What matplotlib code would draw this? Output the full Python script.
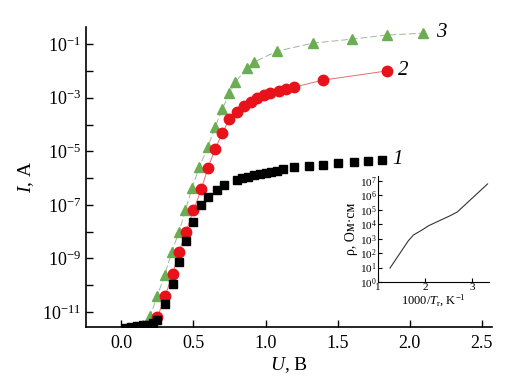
import numpy as np
import matplotlib
matplotlib.use("Agg")
import matplotlib.pyplot as plt
from matplotlib.ticker import NullFormatter, LogFormatterSciNotation

plt.rcParams['font.family'] = ['Liberation Serif', 'DejaVu Serif']
plt.rcParams['mathtext.fontset'] = 'custom'
plt.rcParams['mathtext.rm'] = 'Liberation Serif'
plt.rcParams['mathtext.it'] = 'Liberation Serif:italic'

# curve 1 (black squares)
u1 = [0.03, 0.07, 0.11, 0.15, 0.19, 0.22, 0.25, 0.305, 0.355, 0.40, 0.45, 0.50,
      0.555, 0.60, 0.66, 0.71, 0.80, 0.84, 0.88, 0.92, 0.96, 1.00, 1.04, 1.08,
      1.12, 1.20, 1.30, 1.40, 1.50, 1.61, 1.71, 1.81]
log_i1 = [-11.58, -11.55, -11.52, -11.5, -11.47, -11.42, -11.3, -10.7, -9.96, -9.13,
          -8.35, -7.63, -7.0, -6.7, -6.45, -6.26, -6.07, -6.0, -5.95, -5.9, -5.85,
          -5.8, -5.76, -5.72, -5.66, -5.6, -5.55, -5.5, -5.45, -5.41, -5.38, -5.34]

# curve 2 (red circles)
u2 = [0.25, 0.305, 0.355, 0.40, 0.45, 0.50, 0.555, 0.60, 0.65, 0.70, 0.75, 0.80,
      0.85, 0.90, 0.94, 0.99, 1.03, 1.09, 1.14, 1.20, 1.40, 1.84]
log_i2 = [-11.2, -10.4, -9.58, -8.76, -8.0, -7.2, -6.41, -5.63, -4.92, -4.32, -3.8,
          -3.54, -3.31, -3.16, -3.0, -2.9, -2.82, -2.75, -2.69, -2.6, -2.34, -2.0]

# curve 3 (green triangles)
u3 = [0.15, 0.20, 0.25, 0.30, 0.35, 0.40, 0.445, 0.49, 0.54, 0.60, 0.65, 0.70,
      0.75, 0.79, 0.87, 0.92, 1.08, 1.33, 1.60, 1.84, 2.09]
log_i3 = [-11.5, -11.15, -10.4, -9.62, -8.76, -8.0, -7.2, -6.37, -5.6, -4.84, -4.1,
          -3.43, -2.83, -2.42, -1.9, -1.67, -1.26, -0.96, -0.81, -0.66, -0.59]

# inset: resistivity vs 1000/T
inv_t = [1.255, 1.64, 1.75, 1.93, 2.07, 2.53, 2.68, 3.32]
log_rho = [0.97, 2.85, 3.26, 3.6, 3.9, 4.6, 4.86, 6.8]

green = '#6aad52'
red = '#e8121b'

fig = plt.figure(figsize=(5.17, 3.92), dpi=100)
ax = fig.add_axes([0.1663, 0.1658, 0.7853, 0.7652])

ax.plot(u3, 10.0 ** np.array(log_i3), color='#a0b898', lw=0.7, dashes=(7, 3),
        marker='^', ms=7.5, mfc=green, mec=green, zorder=2)
ax.plot(u2, 10.0 ** np.array(log_i2), '-', color='#e07070', lw=0.7, marker='o',
        ms=7.5, mfc=red, mec=red, zorder=3)
ax.plot(u1, 10.0 ** np.array(log_i1), 'none', marker='s', ms=6.3, mfc='black',
        mec='black', zorder=4)

ax.set_yscale('log')
ax.set_xlim(-0.245, 2.57)
ax.set_ylim(10 ** -11.56, 10 ** -0.36)
ax.set_xticks([0.0, 0.5, 1.0, 1.5, 2.0, 2.5])
ax.set_xticklabels(['0.0', '0.5', '1.0', '1.5', '2.0', '2.5'])
ax.set_yticks([10.0 ** k for k in (-11, -9, -7, -5, -3, -1)])
ax.yaxis.set_major_formatter(LogFormatterSciNotation())
ax.set_yticks([10.0 ** k for k in (-10, -8, -6, -4, -2)], minor=True)
ax.yaxis.set_minor_formatter(NullFormatter())
ax.tick_params(axis='both', which='both', direction='in', labelsize=13, width=1)
ax.tick_params(axis='both', which='major', length=5)
ax.tick_params(axis='y', which='minor', length=5)
ax.tick_params(axis='x', pad=6)
for s in ('top', 'right'):
    ax.spines[s].set_visible(False)
for s in ('left', 'bottom'):
    ax.spines[s].set_linewidth(1.2)

ax.set_xlabel(r'$U$, B', fontsize=14, labelpad=2)
ax.set_ylabel(r'$I$, A', fontsize=14, labelpad=4)

ax.text(1.88, 10 ** -5.3, '1', fontsize=15, style='italic', va='center')
ax.text(1.92, 10 ** -2.0, '2', fontsize=15, style='italic', va='center')
ax.text(2.18, 10 ** -0.55, '3', fontsize=15, style='italic', va='center')

# inset
ins = fig.add_axes([378 / 517, 1 - 282 / 392, 111 / 517, 106 / 392])
ins.plot(inv_t, 10.0 ** np.array(log_rho), '-', color='#333333', lw=0.8)
ins.set_yscale('log')
ins.set_xlim(1.0, 3.35)
ins.set_ylim(1.0, 10 ** 7.35)
ins.set_xticks([1, 2, 3])
ins.set_yticks([10.0 ** k for k in range(8)])
ins.yaxis.set_major_formatter(LogFormatterSciNotation())
ins.yaxis.set_minor_locator(plt.NullLocator())
ins.tick_params(axis='both', which='both', direction='in', labelsize=8,
                length=3, width=0.8, pad=1)
for s in ('top', 'right'):
    ins.spines[s].set_visible(False)
ins.set_xlabel(r'1000/$T_{\mathrm{r}}$, K$^{-1}$', fontsize=9, labelpad=0)
ins.set_ylabel('ρ, Ом·см', fontsize=10, labelpad=1)

fig.savefig('out.png', dpi=100)
